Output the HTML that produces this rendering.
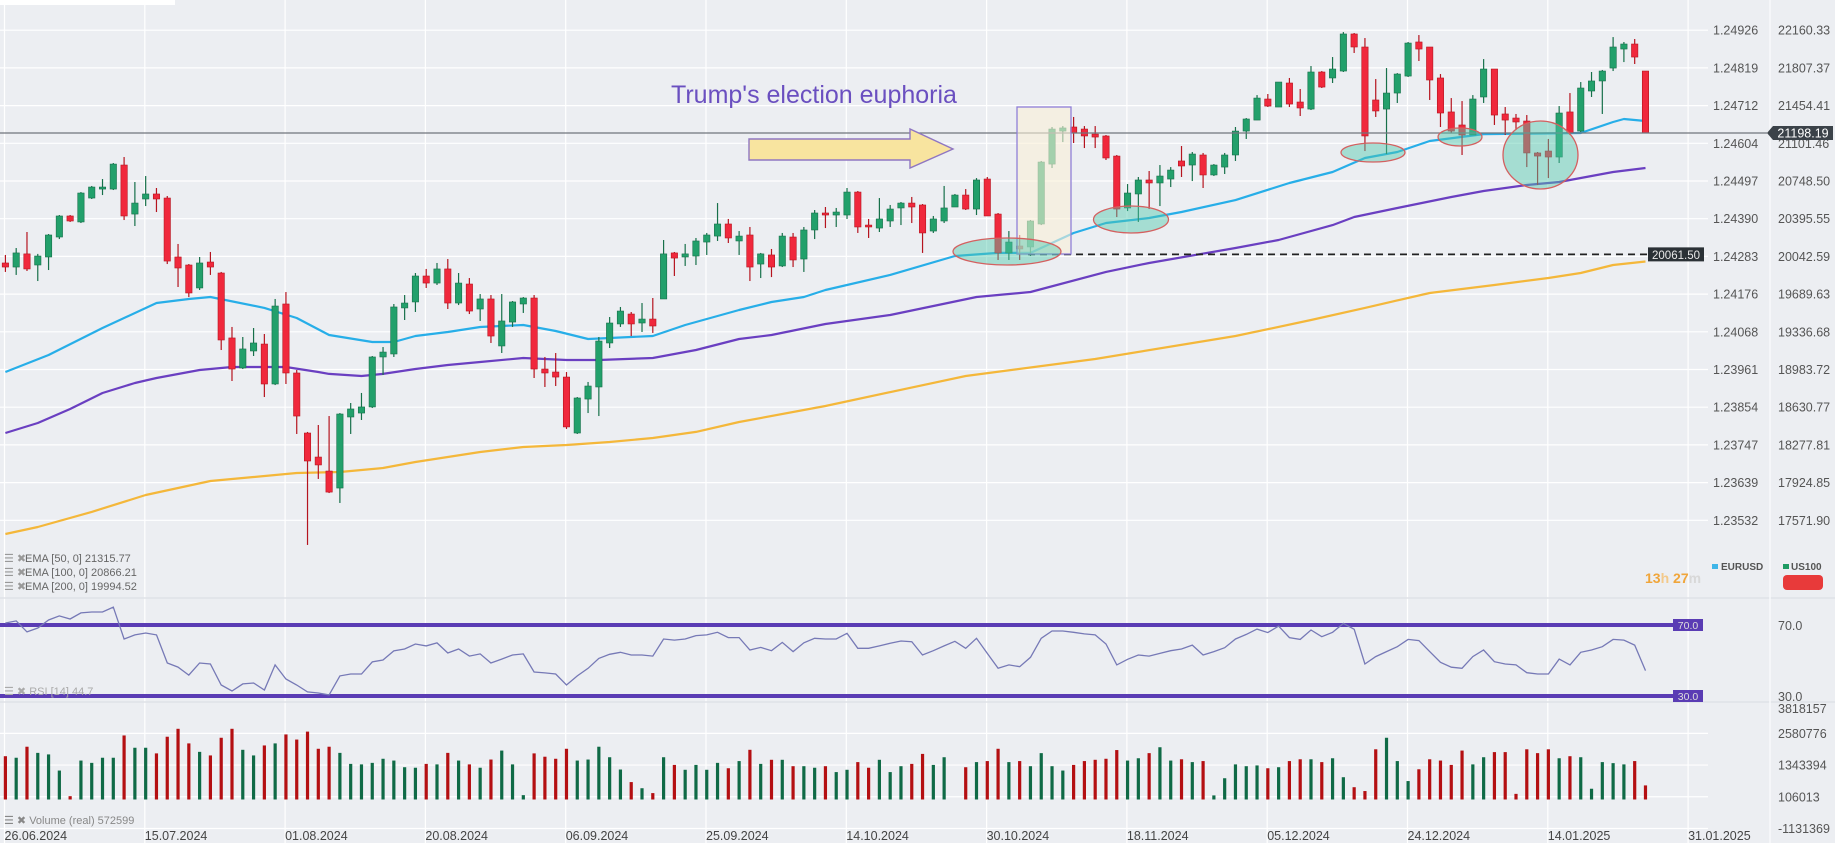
<!DOCTYPE html>
<html><head><meta charset="utf-8"><style>
html,body{margin:0;padding:0;background:#eceef2;}
svg{display:block;font-family:"Liberation Sans",sans-serif;}
</style></head><body>
<svg id="chart" width="1835" height="843" viewBox="0 0 1835 843" xmlns="http://www.w3.org/2000/svg">
<rect x="0" y="0" width="1835" height="843" fill="#eceef2"/>
<rect x="0" y="0" width="175" height="5" fill="#ffffff"/>
<g id="grid"></g>
<g id="overlays-back"></g>
<g id="emas"></g>
<g id="candles"></g>
<g id="overlays"></g>
<g id="rsi"></g>
<g id="vol"></g>
<g id="axes"></g>
<text x="671" y="103" font-size="25" fill="#6a4fc0">Trump's election euphoria</text>
<g font-size="11" fill="#666">
<text x="4" y="562" fill="#999">☰ ✖</text><text x="25" y="562">EMA [50, 0] 21315.77</text>
<text x="4" y="576" fill="#999">☰ ✖</text><text x="25" y="576">EMA [100, 0] 20866.21</text>
<text x="4" y="590" fill="#999">☰ ✖</text><text x="25" y="590">EMA [200, 0] 19994.52</text>
<text x="4" y="695" fill="#aaa">☰ ✖ RSI [14] 44.7</text>
<text x="4" y="824" fill="#888">☰ ✖ Volume  (real)  572599</text>
</g>
<g font-size="10" font-weight="bold" fill="#555">
<rect x="1712" y="564" width="6" height="5" fill="#3fb5e8"/>
<text x="1721" y="570">EURUSD</text>
<rect x="1783" y="564" width="6" height="5" fill="#1e9b63"/>
<text x="1791" y="570">US100</text>
<rect x="1783" y="575" width="40" height="15" rx="4" fill="#e83a3a"/>
</g>
<text x="1645" y="583" font-size="14" font-weight="bold"><tspan fill="#f0a53a">13</tspan><tspan fill="#f3c98a">h </tspan><tspan fill="#f0a53a">27</tspan><tspan fill="#d8d8d8">m</tspan></text>
</svg>
<script>
const openArr=[19981,19943,20066,19962,20037,20224,20421,20365,20589,20673,20673,20898,20439,20580,20627,20589,20037,19962,19747,19990,19887,19279,18998,19157,19222,18848,19597,18951,18389,18164,18033,17874,18539,18576,18633,19101,19129,19560,19616,19859,19793,19925,19606,19784,19550,19644,19204,19428,19597,19653,18988,18960,18913,18389,18707,18820,19232,19410,19503,19419,19456,19644,20075,20037,20046,20177,20233,20346,20187,20243,19971,20056,19953,20224,20018,20290,20449,20430,20430,20645,20336,20308,20374,20496,20542,20524,20280,20374,20505,20617,20486,20767,20439,20075,20140,20131,20346,20907,21216,21254,21235,21188,21170,20982,20496,20627,20758,20730,20767,20936,20898,20992,20805,20879,20992,21216,21319,21516,21441,21666,21488,21422,21769,21713,21778,22125,22003,21507,21422,21572,21731,22050,22003,21713,21395,21273,21179,21535,21797,21376,21338,21310,21011,21029,20973,21395,21216,21591,21685,21806,21984,22031,21778];
const highArr=[20056,20121,20271,20066,20252,20430,20430,20645,20702,20767,20917,20973,20739,20795,20683,20608,20159,19971,20037,20084,19897,19382,19288,19372,19316,19644,19709,18979,18399,18464,18548,18576,18670,18764,19110,19194,19597,19681,19887,19925,19981,20018,19887,19840,19690,19681,19690,19625,19662,19681,19101,19138,18960,18726,18867,19288,19475,19569,19522,19606,19653,20196,20084,20159,20215,20262,20542,20393,20280,20318,20075,20112,20262,20262,20318,20477,20505,20496,20683,20655,20393,20589,20524,20552,20599,20533,20421,20702,20627,20673,20776,20786,20449,20280,20243,20383,20936,21254,21263,21348,21263,21263,21179,20992,20720,20786,20842,20898,20879,21076,21020,21011,20907,21011,21254,21338,21553,21563,21675,21713,21610,21825,21778,21909,22143,22134,22087,21703,21806,21759,22050,22115,22003,21750,21525,21497,21553,21890,21797,21441,21376,21366,21020,21142,21450,21572,21675,21769,21788,22096,22050,22078,21778];
const lowArr=[19897,19869,19906,19812,19915,20205,20365,20355,20580,20617,20664,20383,20327,20514,20458,19971,19756,19662,19728,19869,19166,18876,18988,19110,18726,18838,18848,18380,17341,17959,17827,17734,18380,18511,18623,18932,19101,19447,19522,19747,19775,19550,19587,19503,19438,19232,19138,19382,19513,18904,18820,18829,18427,18380,18576,18548,19185,19382,19297,19335,19326,19644,19859,19953,19962,20056,20187,20168,20056,19812,19840,19849,19943,19943,19897,20205,20308,20318,20393,20262,20215,20271,20318,20336,20355,20075,20262,20355,20505,20477,20430,20421,20009,20009,20009,20046,20336,20870,21113,21104,21057,21057,20945,20411,20467,20365,20486,20514,20692,20786,20748,20683,20795,20814,20936,21142,21319,21441,21441,21441,21357,21413,21619,21666,21769,21947,21029,21348,21001,21479,21722,21872,21507,21254,21198,20992,21179,21479,21273,21179,21226,20879,20711,20776,20917,21179,21207,21535,21376,21778,21862,21844,21198];
const closeArr=[19943,20075,19925,20046,20243,20421,20374,20636,20692,20692,20907,20421,20542,20627,20580,19999,19934,19700,19981,19943,19260,18988,19176,19232,18848,19578,18951,18548,18127,18090,17836,18567,18614,18633,19101,19147,19569,19606,19859,19793,19925,19606,19793,19531,19644,19297,19438,19616,19653,18988,18951,18913,18446,18717,18829,19250,19419,19531,19410,19456,19391,20066,20027,20066,20187,20243,20346,20215,20233,19943,20066,19943,20233,20009,20290,20449,20430,20458,20645,20318,20318,20393,20486,20542,20505,20262,20393,20496,20617,20486,20758,20421,20075,20177,20112,20374,20926,21235,21245,21198,21170,21160,20964,20486,20636,20758,20730,20795,20851,20889,21001,20805,20898,20992,21216,21329,21525,21450,21675,21469,21432,21769,21628,21797,22125,22003,21170,21404,21572,21750,22040,21984,21694,21385,21216,21179,21516,21797,21366,21319,21301,21011,20982,20973,21385,21198,21619,21685,21778,22003,22031,21909,21198];
const volumeK=[1690,1630,2060,1820,1760,1130,130,1520,1430,1630,1630,2500,2020,2020,1800,2450,2760,2190,1860,1720,2410,2760,1940,1720,2110,2190,2540,2340,2650,1980,2060,1820,1390,1370,1430,1590,1520,1260,1240,1390,1370,1820,1520,1370,1240,1560,1910,1370,170,1800,1670,1590,1980,1520,1560,2060,1650,1170,680,440,250,1650,1350,1160,1350,1160,1430,1220,1500,1940,1390,1550,1550,1300,1300,1240,1300,1070,1160,1460,1240,1550,1070,1300,1390,1780,1350,1650,0,1260,1460,1500,1980,1460,1500,1300,1810,1300,1130,1350,1500,1550,1590,1930,1520,1610,1810,2040,1520,1570,1460,1500,160,830,1370,1300,1330,1220,1260,1500,1570,1570,1460,1610,870,480,330,1960,2410,1500,720,1180,1570,1520,1350,1910,1370,1650,1850,1850,220,1960,1810,1960,1610,1690,1650,420,1460,1420,1370,1500,550];
const rsiArr=[71.1,72.3,66.1,68.3,72.8,75.1,73.4,76.8,77.3,77.3,80.1,62.1,64.4,65.5,64.4,48.6,46.3,41.8,48.6,48.0,36.2,32.8,36.8,37.3,33.4,47.5,39.6,36.2,32.3,31.7,30.6,41.3,42.4,42.4,49.2,50.3,55.4,56.5,59.3,58.2,59.9,54.2,56.5,52.5,53.7,48.6,50.8,53.1,53.7,43.5,43.0,42.4,36.2,41.3,45.6,51.2,53.5,54.6,53.1,53.1,52.5,62.1,61.5,62.1,64.0,64.4,65.9,62.9,62.9,55.9,57.4,55.5,60.2,55.0,60.0,62.5,62.1,62.1,65.3,56.9,56.9,58.2,59.7,61.0,60.6,53.1,55.5,58.2,60.8,56.9,62.5,54.0,45.6,47.5,46.5,51.8,62.5,66.6,66.6,65.9,65.0,64.4,59.3,47.5,50.7,53.1,52.5,54.0,55.5,56.5,58.7,53.1,55.0,57.2,62.1,64.7,67.7,65.7,69.4,62.9,61.9,67.2,63.4,65.9,70.9,67.6,48.0,52.2,55.0,57.8,61.9,61.2,55.0,49.0,46.2,45.6,52.2,55.9,49.3,48.0,47.5,43.1,42.4,42.4,50.8,47.5,54.6,55.9,57.8,61.9,61.5,58.7,44.3];
const ema50Idx=[0,4,9,14,17,19,24,27,30,34,36,38,41,44,48,51,54,56,60,63,68,71,74,76,82,88,92,95,99,102,106,109,114,119,123,126,129,132,137,146,149,150,152];
const ema50Val=[18960,19119,19372,19606,19644,19662,19560,19466,19307,19241,19241,19297,19335,19382,19400,19344,19269,19279,19297,19400,19541,19616,19662,19728,19869,20046,20075,20075,20262,20355,20402,20458,20570,20730,20833,20964,21020,21123,21188,21198,21301,21329,21310];
const ema100Idx=[0,3,6,9,12,14,18,21,26,29,30,33,35,38,41,44,48,52,55,60,64,68,71,76,82,90,95,102,106,114,118,123,125,129,134,137,141,144,149,152];
const ema100Val=[18389,18483,18614,18764,18857,18904,18979,19007,19007,18960,18942,18923,18942,18988,19026,19054,19091,19073,19073,19091,19166,19269,19307,19410,19494,19662,19709,19897,19981,20121,20196,20336,20411,20496,20599,20655,20711,20739,20833,20870];
const ema200Idx=[0,3,8,13,19,23,27,31,35,38,44,48,52,56,60,64,68,76,89,101,114,121,126,132,138,143,146,149,152];
const ema200Val=[17444,17509,17650,17809,17940,17977,18015,18024,18061,18118,18211,18258,18277,18305,18342,18399,18492,18642,18923,19082,19297,19447,19560,19700,19775,19840,19887,19962,19995];
const usTicks=["22160.33","21807.37","21454.41","21101.46","20748.50","20395.55","20042.59","19689.63","19336.68","18983.72","18630.77","18277.81","17924.85","17571.90"];
const eurTicks=["1.24926","1.24819","1.24712","1.24604","1.24497","1.24390","1.24283","1.24176","1.24068","1.23961","1.23854","1.23747","1.23639","1.23532"];
const dateLabels=["26.06.2024","15.07.2024","01.08.2024","20.08.2024","06.09.2024","25.09.2024","14.10.2024","30.10.2024","18.11.2024","05.12.2024","24.12.2024","14.01.2025","31.01.2025"];
const volTicks=["3818157","2580776","1343394","106013","-1131369"];
const volTickVals=[3818157,2580776,1343394,106013,-1131369];
const rsiLevels=[70,30];
const currentPrice=21198.19;
const supportLevel=20061.50;

const NS="http://www.w3.org/2000/svg";
function mk(tag,attrs,parent){const e=document.createElementNS(NS,tag);for(const k in attrs)e.setAttribute(k,attrs[k]);parent.appendChild(e);return e;}
const X=i=>5.4+10.79*i;
const Y=p=>30.2+(22160.33-p)*0.10681;
const RY=v=>625+(70-v)*1.775;
const VY=v=>799.5-v/39034;
const G=document.getElementById('grid');

// vertical gridlines
dateLabels.forEach((d,k)=>{const x=4.5+140.3*k;
 const l=mk('line',{x1:x,y1:0,x2:x,y2:843,stroke:'#ffffff','stroke-width':1.2},G);
 
 });
// horizontal gridlines
usTicks.forEach((t,k)=>{const y=Y(parseFloat(t));
 const l=mk('line',{x1:0,y1:y,x2:1708,y2:y,stroke:'#ffffff','stroke-width':1.2},G);
 
 });
volTickVals.slice(1).forEach(v=>{const y=VY(v);
 const l=mk('line',{x1:0,y1:y,x2:1708,y2:y,stroke:'#ffffff','stroke-width':1.2},G);
 
 });
[598,702].forEach(y=>{const l=mk('line',{x1:0,y1:y,x2:1835,y2:y,stroke:'#dfe2e7','stroke-width':1.5},G);
 
 });
const sep=mk('line',{x1:1770,y1:0,x2:1770,y2:843,stroke:'#f8f9fb','stroke-width':1.5},G);



// EMAs
const E=document.getElementById('emas');
[[ema50Idx,ema50Val,'#27aee8','ema50-line'],[ema100Idx,ema100Val,'#6a3fc1','ema100-line'],[ema200Idx,ema200Val,'#f4b73a','ema200-line']].forEach(([ix,vs,c,n])=>{
 const pts=ix.map((i,k)=>X(i).toFixed(1)+','+Y(vs[k]).toFixed(1)).join(' ');
 const pl=mk('polyline',{points:pts,fill:'none',stroke:c,'stroke-width':2.2,'stroke-linejoin':'round'},E);
 
 });

// candles
const C=document.getElementById('candles');
openArr.forEach((o,i)=>{const c=closeArr[i];const up=c>=o;const col=up?'#22a06b':'#f0283c';const ec=up?'#17704a':'#b5141f';
 const g=mk('g',{},C);
 
 
 const x=X(i);
 mk('line',{x1:x,y1:Y(highArr[i]),x2:x,y2:Y(lowArr[i]),stroke:ec,'stroke-width':1.2},g);
 const t=Y(Math.max(o,c)),b=Y(Math.min(o,c));
 mk('rect',{x:x-3.2,y:t,width:6.4,height:Math.max(1.5,b-t),fill:col,stroke:ec,'stroke-width':0.6},g);});

// current price line & support
const OV=document.getElementById('overlays');
const cp=mk('line',{x1:0,y1:Y(currentPrice),x2:1767,y2:Y(currentPrice),stroke:'#6f757c','stroke-width':1.3},OV);


const sy=Y(supportLevel);
const sl=mk('line',{x1:1028,y1:sy,x2:1648,y2:sy,stroke:'#222','stroke-width':1.8,'stroke-dasharray':'7,5'},OV);


const st=mk('rect',{x:1648,y:sy-7,width:56,height:14,fill:'#2b3136'},OV);


const stt=mk('text',{x:1676,y:sy+4.5,'font-size':11.5,fill:'#e8e8e8','text-anchor':'middle'},OV);stt.textContent=supportLevel.toFixed(2);



// annotation shapes
const box=mk('rect',{x:1017,y:107,width:54,height:147,fill:'rgba(250,240,215,0.6)',stroke:'#8f7fd8','stroke-width':1.3},OV);


const arr=mk('polygon',{points:'749,139 910,139 910,129 953,149 910,168 910,160 749,160',fill:'#f8e49f',stroke:'#8f76c2','stroke-width':1.4},OV);


[[1007,251.5,54,13.5],[1131,219.5,37.5,13.5],[1373,152.5,32,9.5],[1460,137,22,9],[1540.5,155,37.5,34]].forEach(e=>{
 const el=mk('ellipse',{cx:e[0],cy:e[1],rx:e[2],ry:e[3],fill:'rgba(80,200,170,0.45)',stroke:'#d46060','stroke-width':1.3},OV);
 
 });

// RSI pane
const R=document.getElementById('rsi');
rsiLevels.forEach(v=>{const y=RY(v);
 const l=mk('line',{x1:0,y1:y,x2:1673,y2:y,stroke:'#5a3cb4','stroke-width':4},R);
 
 
 const t=mk('rect',{x:1673,y:y-6,width:30,height:12,fill:'#5a3cb4'},R);
 
 
 const tt=mk('text',{x:1688,y:y+4,'font-size':10.5,fill:'#ddd','text-anchor':'middle'},R);tt.textContent=v.toFixed(1);
 
 
 const al=mk('text',{x:1778,y:y+5,'font-size':12.5,fill:'#555'},R);al.textContent=v.toFixed(1);
 
 });
const rl=mk('polyline',{points:rsiArr.map((v,i)=>X(i).toFixed(1)+','+RY(v).toFixed(1)).join(' '),fill:'none',stroke:'#7679b6','stroke-width':1.3},R);



// Volume
const V=document.getElementById('vol');
volumeK.forEach((v,i)=>{const up=closeArr[i]>=openArr[i];const val=v*1000;
 const y=VY(val);
 const b=mk('rect',{x:X(i)-1.6,y:y,width:3.2,height:Math.max(0,799.5-y),fill:up?'#0f6a46':'#b40f12'},V);
 
 });

// axes labels
const A=document.getElementById('axes');
usTicks.forEach((t,k)=>{const y=Y(parseFloat(t))+4.5;
 const a=mk('text',{x:1713,y:y,'font-size':12.5,fill:'#555'},A);a.textContent=eurTicks[k];
 
 
 const b=mk('text',{x:1778,y:y,'font-size':12.5,fill:'#555'},A);b.textContent=t;
 
 });
const ty=Y(currentPrice);
const tag=mk('polygon',{points:`1767,${ty} 1773,${ty-7} 1833,${ty-7} 1833,${ty+7} 1773,${ty+7}`,fill:'#3b4249'},A);


const tagt=mk('text',{x:1803,y:ty+4.5,'font-size':12.5,fill:'#fff','text-anchor':'middle'},A);tagt.textContent=currentPrice.toFixed(2);


volTicks.forEach((t,k)=>{const y=k===0?713:VY(volTickVals[k])+4.5;
 const a=mk('text',{x:1778,y:y,'font-size':12.5,fill:'#555'},A);a.textContent=t;
 
 });
dateLabels.forEach((d,k)=>{const x=4.5+140.3*k;
 const a=mk('text',{x:x,y:840,'font-size':12.5,fill:'#444'},A);a.textContent=d;
 
 });
</script>
</body></html>
